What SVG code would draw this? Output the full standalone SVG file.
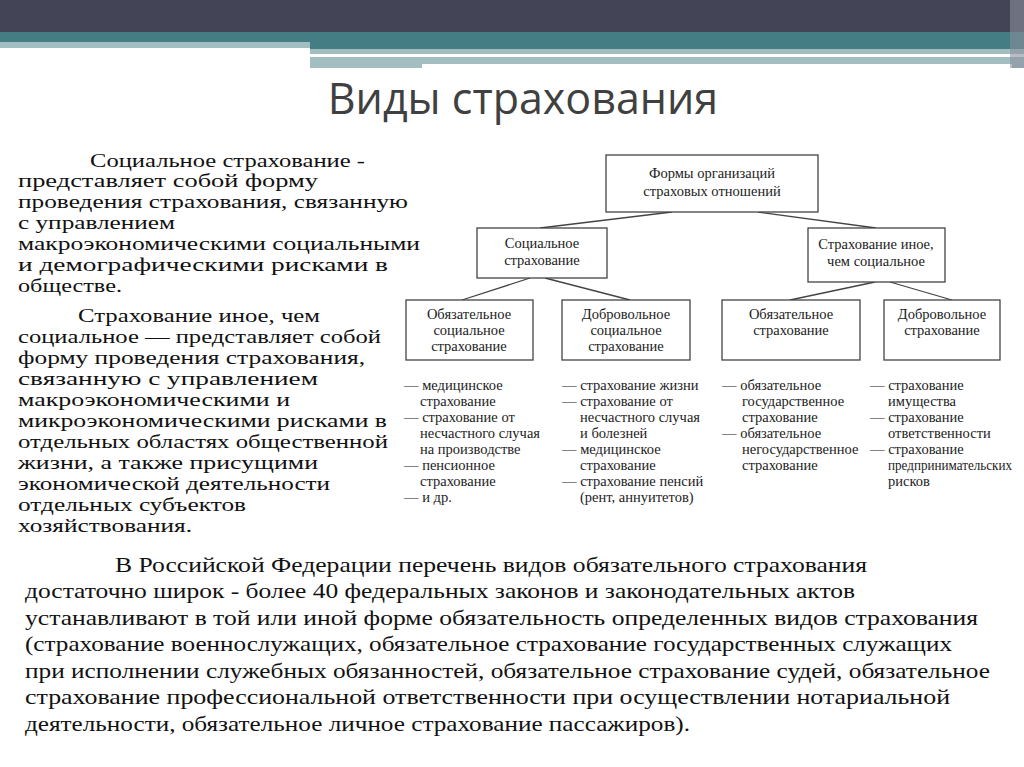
<svg xmlns="http://www.w3.org/2000/svg" width="1024" height="767" viewBox="0 0 1024 767">
<style>
.b{fill:#fff;stroke:#444;stroke-width:1.3}
.d{font-family:"Liberation Serif",serif;font-size:14.5px;fill:#222}
.c{text-anchor:middle}
.t{font-family:"Liberation Serif",serif;font-size:19.5px;fill:#111}
.p{font-family:"Liberation Serif",serif;font-size:21px;fill:#111}
#conn line{stroke:#444;stroke-width:1.3}
</style>
<rect width="1024" height="767" fill="#fff"/>
<rect width="1024" height="32" fill="#434556"/>
<rect y="32" width="1024" height="10" fill="#447d83"/>
<rect y="42" width="310" height="6" fill="#a3bec0"/>
<rect x="310" y="42" width="714" height="7" fill="#447d83"/>
<rect x="310" y="49" width="714" height="5" fill="#a3bec0"/>
<rect x="310" y="54" width="175" height="3" fill="#fff"/>
<rect x="310" y="57" width="714" height="11" fill="#a3bec0"/>
<rect x="422" y="64" width="590" height="4" fill="#fff"/>
<rect x="1010" y="0" width="14" height="68" fill="#8b8f9c" opacity="0.6"/>
<text x="523" y="114" text-anchor="middle" font-family="Open Sans,sans-serif" font-size="43" fill="#404040">Виды страхования</text>
<g id="left-text" class="t">
<text x="90" y="167" textLength="275" lengthAdjust="spacingAndGlyphs">Социальное страхование -</text>
<text x="18" y="187" textLength="300" lengthAdjust="spacingAndGlyphs">представляет собой форму</text>
<text x="18" y="208" textLength="390" lengthAdjust="spacingAndGlyphs">проведения страхования, связанную</text>
<text x="18" y="229" textLength="157" lengthAdjust="spacingAndGlyphs">с управлением</text>
<text x="18" y="250" textLength="402" lengthAdjust="spacingAndGlyphs">макроэкономическими социальными</text>
<text x="18" y="271" textLength="370" lengthAdjust="spacingAndGlyphs">и демографическими рисками в</text>
<text x="18" y="292" textLength="104" lengthAdjust="spacingAndGlyphs">обществе.</text>
<text x="78" y="322" textLength="242" lengthAdjust="spacingAndGlyphs">Страхование иное, чем</text>
<text x="18" y="343" textLength="363" lengthAdjust="spacingAndGlyphs">социальное — представляет собой</text>
<text x="18" y="364" textLength="347" lengthAdjust="spacingAndGlyphs">форму проведения страхования,</text>
<text x="18" y="385" textLength="300" lengthAdjust="spacingAndGlyphs">связанную с управлением</text>
<text x="18" y="406" textLength="272" lengthAdjust="spacingAndGlyphs">макроэкономическими и</text>
<text x="18" y="427" textLength="369" lengthAdjust="spacingAndGlyphs">микроэкономическими рисками в</text>
<text x="18" y="448" textLength="370" lengthAdjust="spacingAndGlyphs">отдельных областях общественной</text>
<text x="18" y="469" textLength="300" lengthAdjust="spacingAndGlyphs">жизни, а также  присущими</text>
<text x="18" y="490" textLength="312" lengthAdjust="spacingAndGlyphs">экономической деятельности</text>
<text x="18" y="511" textLength="228" lengthAdjust="spacingAndGlyphs">отдельных субъектов</text>
<text x="18" y="532" textLength="174" lengthAdjust="spacingAndGlyphs">хозяйствования.</text>
</g>
<g id="conn">
<line x1="672" y1="212" x2="540" y2="228"/>
<line x1="758" y1="212" x2="876" y2="228"/>
<line x1="530" y1="278" x2="462" y2="300"/>
<line x1="545" y1="278" x2="630" y2="300"/>
<line x1="875" y1="282" x2="790" y2="300"/>
<line x1="890" y1="282" x2="952" y2="300"/>
</g>
<g id="n-top"><rect class="b" x="606" y="155" width="212" height="57"/><text class="d c" x="712" y="178">Формы организаций</text><text class="d c" x="712" y="196">страховых отношений</text></g>
<g id="n-social"><rect class="b" x="477" y="228" width="130" height="50"/><text class="d c" x="542" y="248">Социальное</text><text class="d c" x="542" y="265">страхование</text></g>
<g id="n-other"><rect class="b" x="808" y="228" width="137" height="54"/><text class="d c" x="876" y="249">Страхование иное,</text><text class="d c" x="876" y="266">чем социальное</text></g>
<g id="n-os"><rect class="b" x="406" y="300" width="127" height="60"/><text class="d c" x="469" y="319">Обязательное</text><text class="d c" x="469" y="335">социальное</text><text class="d c" x="469" y="351">страхование</text></g>
<g id="n-ds"><rect class="b" x="562" y="300" width="128" height="60"/><text class="d c" x="626" y="319">Добровольное</text><text class="d c" x="626" y="335">социальное</text><text class="d c" x="626" y="351">страхование</text></g>
<g id="n-o"><rect class="b" x="722" y="300" width="138" height="60"/><text class="d c" x="791" y="319">Обязательное</text><text class="d c" x="791" y="335">страхование</text></g>
<g id="n-d"><rect class="b" x="884" y="300" width="116" height="60"/><text class="d c" x="942" y="319">Добровольное</text><text class="d c" x="942" y="335">страхование</text></g>
<g id="lists" class="d">
<text x="404" y="390">— медицинское</text><text x="420" y="406">страхование</text><text x="404" y="422">— страхование от</text><text x="420" y="438">несчастного случая</text><text x="420" y="454">на производстве</text><text x="404" y="470">— пенсионное</text><text x="420" y="486">страхование</text><text x="404" y="502">— и др.</text>
<text x="562" y="390">— страхование жизни</text><text x="562" y="406">— страхование от</text><text x="580" y="422">несчастного случая</text><text x="580" y="438">и болезней</text><text x="562" y="454">— медицинское</text><text x="580" y="470">страхование</text><text x="562" y="486">— страхование пенсий</text><text x="580" y="502">(рент, аннуитетов)</text>
<text x="722" y="390">— обязательное</text><text x="742" y="406">государственное</text><text x="742" y="422">страхование</text><text x="722" y="438">— обязательное</text><text x="742" y="454">негосударственное</text><text x="742" y="470">страхование</text>
<text x="870" y="390">— страхование</text><text x="888" y="406">имущества</text><text x="870" y="422">— страхование</text><text x="888" y="438">ответственности</text><text x="870" y="454">— страхование</text><text x="888" y="470" textLength="124" lengthAdjust="spacingAndGlyphs">предпринимательских</text><text x="888" y="486">рисков</text>
</g>
<g id="bottom-text" class="p">
<text x="115" y="572" textLength="752" lengthAdjust="spacingAndGlyphs">В Российской Федерации перечень видов обязательного страхования</text>
<text x="25" y="598" textLength="830" lengthAdjust="spacingAndGlyphs">достаточно широк - более 40 федеральных законов и законодательных актов</text>
<text x="25" y="625" textLength="953" lengthAdjust="spacingAndGlyphs">устанавливают в той или иной форме обязательность определенных видов страхования</text>
<text x="25" y="651" textLength="927" lengthAdjust="spacingAndGlyphs">(страхование военнослужащих, обязательное страхование государственных служащих</text>
<text x="25" y="678" textLength="965" lengthAdjust="spacingAndGlyphs">при исполнении служебных обязанностей, обязательное страхование судей, обязательное</text>
<text x="25" y="704" textLength="925" lengthAdjust="spacingAndGlyphs">страхование профессиональной ответственности при осуществлении нотариальной</text>
<text x="25" y="731" textLength="665" lengthAdjust="spacingAndGlyphs">деятельности, обязательное личное страхование пассажиров).</text>
</g>
</svg>
